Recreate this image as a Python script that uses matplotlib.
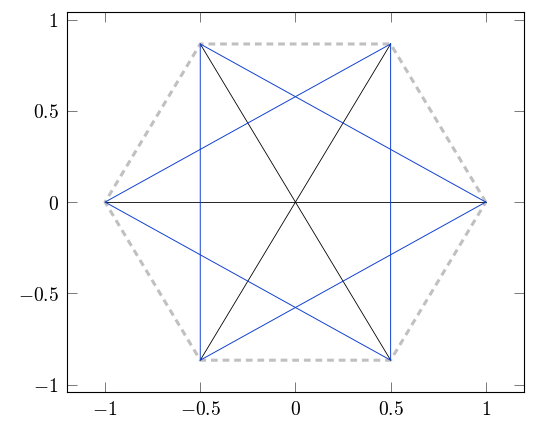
import matplotlib

matplotlib.use("Agg")

import matplotlib.pyplot as plt
from matplotlib.ticker import FuncFormatter

plt.rcParams["mathtext.fontset"] = "cm"

# hexagon vertices (counter-clockwise from (1, 0))
vx = [1.0, 0.5, -0.5, -1.0, -0.5, 0.5]
vy = [0.0, 0.866, 0.866, 0.0, -0.866, -0.866]

# index pairs
diameters = [(0, 3), (1, 4), (2, 5)]
triangles = [(0, 2, 4), (1, 3, 5)]

xticks = [-1, -0.5, 0, 0.5, 1]
yticks = [-1, -0.5, 0, 0.5, 1]


def _fmt(v, _pos):
    s = f"{v:g}"
    return f"${s}$"


fig = plt.figure(figsize=(5.34, 4.36), dpi=100)
ax = fig.add_axes([0.1255, 0.101, 0.8555, 0.871])

# dashed outline
ax.plot(vx + vx[:1], vy + vy[:1], color="#c0c0c0", lw=2.2,
        dashes=(2.2, 1.6), zorder=1)

for i, j in diameters:
    ax.plot([vx[i], vx[j]], [vy[i], vy[j]], color="black", lw=0.6, zorder=2)

for tri in triangles:
    idx = list(tri) + [tri[0]]
    ax.plot([vx[k] for k in idx], [vy[k] for k in idx], color="#1040d0",
            lw=0.7, zorder=3)

ax.set_xlim(-1.2, 1.2)
ax.set_ylim(-1.04, 1.04)
ax.set_xticks(xticks)
ax.set_yticks(yticks)
ax.xaxis.set_major_formatter(FuncFormatter(_fmt))
ax.yaxis.set_major_formatter(FuncFormatter(_fmt))
ax.tick_params(direction="in", length=7, width=0.5, color="#444444",
               top=True, right=True, labelsize=14, pad=6)
for sp in ax.spines.values():
    sp.set_linewidth(0.8)

fig.savefig("out.png", dpi=100)
